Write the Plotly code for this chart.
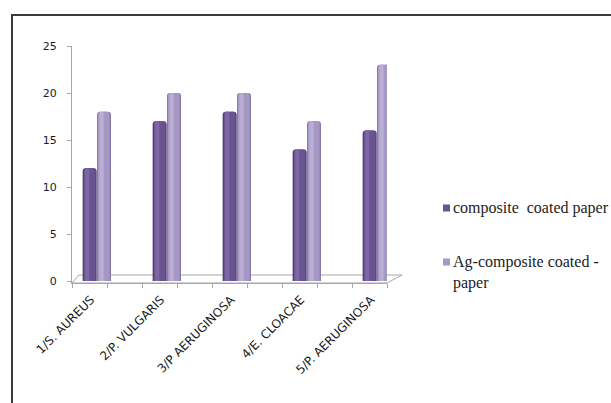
import plotly.graph_objects as go

# ---- data ----
categories = ["1/S. AUREUS", "2/P. VULGARIS", "3/P AERUGINOSA", "4/E. CLOACAE", "5/P. AERUGINOSA"]
series_names = ["composite\u00a0 coated paper", "Ag-composite coated -<br>paper"]
composite = [12, 17, 18, 14, 16]
ag_composite = [18, 20, 20, 17, 23]
y_ticks = [0, 5, 10, 15, 20, 25]

# ---- canvas geometry (pixels) ----
W, H = 611, 403
ML, MR, MT, MB = 72, 224, 46, 120
PW, PH = W - ML - MR, H - MT - MB
X_RANGE = [-25 / 70, 290 / 70]
Y_RANGE = [-0.213, 25]


def px(xp):
    return (xp - ML) / PW


def py(yp):
    return (H - MB - yp) / PH


xs = list(range(len(categories)))

# cylinder-like shading: (offset, width, colour) layers per series
dark_layers = [(-0.205, 0.2, "#4d3970"), (-0.19, 0.17, "#6a5391"), (-0.17, 0.06, "#7c66a4")]
light_layers = [(0.0, 0.2, "#8a7aac"), (0.014, 0.166, "#a698c4"), (0.035, 0.06, "#baaed5")]

fig = go.Figure()
for values, layers, name in [(composite, dark_layers, series_names[0]),
                             (ag_composite, light_layers, series_names[1])]:
    for i, (off, wid, col) in enumerate(layers):
        fig.add_trace(go.Bar(
            x=xs, y=values, name=name, offset=off, width=wid,
            marker=dict(color=col, line=dict(width=0), cornerradius=3 if i == 0 else 2),
            showlegend=False, hoverinfo="skip",
        ))

shapes = []
# 3-D style floor under the bars
shapes.append(dict(
    type="path", xref="paper", yref="paper", layer="below",
    path=f"M{px(72)},{py(283)} L{px(79)},{py(275)} L{px(402)},{py(275)} L{px(387)},{py(283)} Z",
    line=dict(color="#a6a6a6", width=1), fillcolor="rgba(255,255,255,0)",
))
# outer frame
shapes.append(dict(
    type="path", xref="paper", yref="paper",
    path=f"M{px(12)},{py(430)} L{px(12)},{py(15)} L{px(640)},{py(15)}",
    line=dict(color="#3c3c3c", width=2),
))

# legend: colour keys and labels
legend_cols = ["#6a5391", "#a698c4"]
legend_y = [208, 262]
annotations = []
for col, yy in zip(legend_cols, legend_y):
    shapes.append(dict(
        type="rect", xref="paper", yref="paper",
        x0=px(443), x1=px(450), y0=py(yy + 3.5), y1=py(yy - 3.5),
        line=dict(width=0), fillcolor=col,
    ))
for yy, name in zip([208, 272.5], series_names):
    annotations.append(dict(
        xref="paper", yref="paper", x=px(451), y=py(yy),
        xanchor="left", yanchor="middle", align="left", showarrow=False,
        text=name, font=dict(family="Liberation Serif", size=16, color="#222222"),
    ))

fig.update_layout(
    width=W, height=H,
    margin=dict(l=ML, r=MR, t=MT, b=MB, pad=0),
    paper_bgcolor="white", plot_bgcolor="white",
    barmode="overlay", showlegend=False,
    shapes=shapes, annotations=annotations,
    xaxis=dict(
        range=X_RANGE, showgrid=False, zeroline=False,
        showline=True, linecolor="#a6a6a6", linewidth=1,
        tickmode="array", tickvals=xs, ticktext=categories, ticks="",
        ticklabelstandoff=4, ticklabelshift=-6,
        tickangle=-45, tickfont=dict(family="DejaVu Sans", size=12, color="#1a1a1a"),
        minor=dict(tickmode="linear", tick0=X_RANGE[0], dtick=0.5,
                   ticks="outside", ticklen=4, tickcolor="#a6a6a6"),
    ),
    yaxis=dict(
        range=Y_RANGE, showgrid=False, zeroline=False,
        showline=True, linecolor="#a6a6a6", linewidth=1,
        tickmode="array", tickvals=y_ticks, ticks="outside", ticklen=4,
        tickcolor="#a6a6a6", ticklabelstandoff=8,
        tickfont=dict(family="DejaVu Sans", size=11, color="#1a1a2a"),
    ),
)

fig.write_html("out.html")
